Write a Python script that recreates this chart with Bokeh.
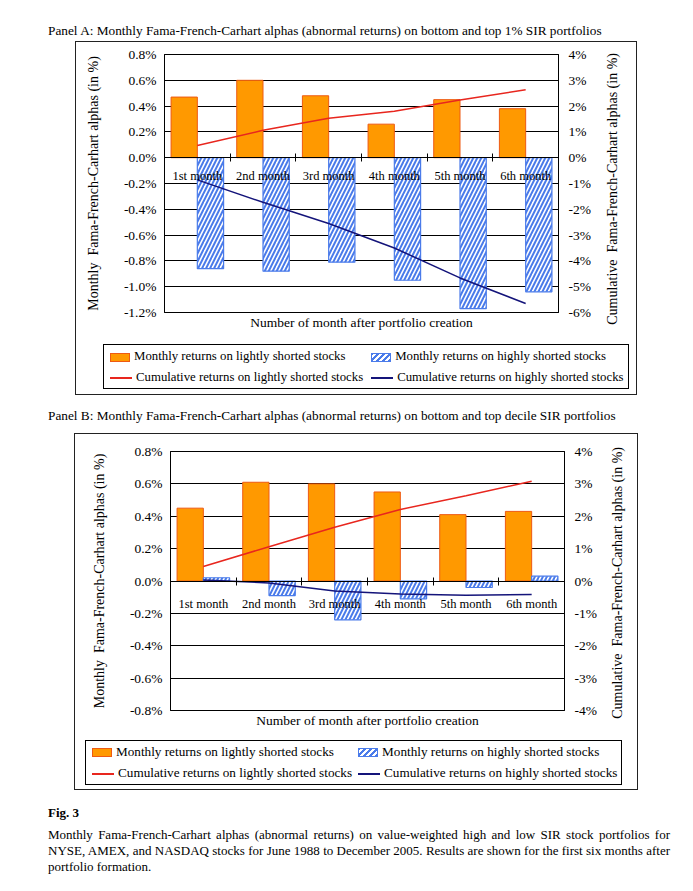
from bokeh.plotting import figure
from bokeh.models import (Range1d, LinearAxis, FixedTicker, PrintfTickFormatter,
                          Title, Div, ColumnDataSource)
from bokeh.layouts import column, row
from bokeh.core.properties import value
from bokeh.embed import file_html
from bokeh.resources import INLINE

months = ["1st month", "2nd month", "3rd month", "4th month", "5th month", "6th month"]

# Panel A (bottom and top 1% SIR)
a_light = [0.47, 0.60, 0.48, 0.26, 0.45, 0.38]
a_heavy = [-0.86, -0.88, -0.81, -0.95, -1.17, -1.04]
a_cum_light = [0.47, 1.06, 1.53, 1.80, 2.24, 2.63]
a_cum_heavy = [-0.86, -1.73, -2.55, -3.50, -4.66, -5.65]
a_left_ticks = [-1.2, -1.0, -0.8, -0.6, -0.4, -0.2, 0.0, 0.2, 0.4, 0.6, 0.8]
a_right_ticks = [-6, -5, -4, -3, -2, -1, 0, 1, 2, 3, 4]

# Panel B (bottom and top decile SIR)
b_light = [0.45, 0.61, 0.60, 0.55, 0.41, 0.43]
b_heavy = [0.02, -0.09, -0.24, -0.11, -0.04, 0.03]
b_cum_light = [0.45, 1.06, 1.66, 2.21, 2.63, 3.08]
b_cum_heavy = [0.03, -0.06, -0.31, -0.40, -0.44, -0.42]
b_left_ticks = [-0.8, -0.6, -0.4, -0.2, 0.0, 0.2, 0.4, 0.6, 0.8]
b_right_ticks = [-4, -3, -2, -1, 0, 1, 2, 3, 4]

legend_labels = ["Monthly returns on lightly shorted stocks",
                 "Monthly returns on highly shorted stocks",
                 "Cumulative returns on lightly shorted stocks",
                 "Cumulative returns on highly shorted stocks"]
left_label = "Monthly\u00a0\u00a0Fama-French-Carhart alphas (in %)"
right_label = "Cumulative\u00a0\u00a0Fama-French-Carhart alphas (in %)"
x_label = "Number of month after portfolio creation"

FONT = "Liberation Serif"
ORANGE = "#FF9900"
ORANGE_EDGE = "#EE5A12"
BLUE = "#4A7BEA"
RED = "#E8261E"
NAVY = "#14147A"
BORDER = "1.5px solid #222"


def chart(light, heavy, cum_light, cum_heavy, left_ticks, right_ticks,
          width, height, mb, label_offset):
    idx = list(range(len(months)))
    src = ColumnDataSource(dict(
        xl=[i + 0.3 for i in idx], xh=[i + 0.7 for i in idx], xc=[i + 0.5 for i in idx],
        light=light, heavy=heavy, cl=cum_light, ch=cum_heavy, zero=[0.0] * len(idx),
        lab=months))
    p = figure(width=width, height=height, output_backend="svg", toolbar_location=None,
               x_range=Range1d(0, 6), y_range=Range1d(left_ticks[0], left_ticks[-1]),
               min_border_left=mb[0], min_border_right=mb[1], min_border_top=mb[2],
               min_border_bottom=mb[3], outline_line_color="black", outline_line_width=1,
               background_fill_color="white", border_fill_color="white",
               styles={"border-top": BORDER, "border-left": BORDER, "box-sizing": "border-box"})
    p.margin = (0, 0, 0, 0)
    p.extra_y_ranges = {"cum": Range1d(right_ticks[0], right_ticks[-1])}
    p.xgrid.visible = False
    p.ygrid.grid_line_color = "black"
    p.ygrid.grid_line_width = 1
    p.ygrid.ticker = FixedTicker(ticks=left_ticks)

    # x axis at zero with ticks between categories
    xa = p.xaxis[0]
    xa.fixed_location = 0
    xa.ticker = FixedTicker(ticks=[1, 2, 3, 4, 5])
    xa.major_label_overrides = {1: "", 2: "", 3: "", 4: "", 5: ""}
    xa.major_label_standoff = 0
    xa.major_tick_in = 4
    xa.major_tick_out = 4
    xa.minor_tick_line_color = None
    xa.axis_line_color = "black"

    ya = p.yaxis[0]
    ya.ticker = FixedTicker(ticks=left_ticks)
    ya.formatter = PrintfTickFormatter(format="%.1f%%")
    ya.axis_label = left_label
    ra = LinearAxis(y_range_name="cum", ticker=FixedTicker(ticks=right_ticks),
                    formatter=PrintfTickFormatter(format="%d%%"))
    p.add_layout(ra, "right")
    for ax in (ya, ra):
        ax.major_label_text_font = FONT
        ax.major_label_text_font_size = "13.5px"
        ax.major_label_text_color = "black"
        ax.axis_label_text_font = FONT
        ax.axis_label_text_font_size = "14px"
        ax.axis_label_text_font_style = "normal"
        ax.axis_label_text_color = "black"
        ax.minor_tick_line_color = None
        ax.major_tick_in = 4
        ax.major_tick_out = 0
        ax.axis_line_color = "black"
    ya.major_label_standoff = 8
    ya.axis_label_standoff = 20
    ra.major_label_standoff = 10

    p.vbar(x="xl", top="light", bottom=0, width=0.4, source=src,
           fill_color=ORANGE, line_color=ORANGE_EDGE, line_width=1)
    p.vbar(x="xh", top="heavy", bottom=0, width=0.4, source=src,
           fill_color="white", line_color=BLUE, line_width=1.2,
           hatch_pattern="/", hatch_color=BLUE, hatch_scale=8, hatch_weight=2)
    p.line(x="xc", y="cl", source=src, y_range_name="cum", line_color=RED, line_width=1.5)
    p.line(x="xc", y="ch", source=src, y_range_name="cum", line_color=NAVY, line_width=1.5)
    p.text(x="xc", y="zero", text="lab", source=src, y_offset=label_offset,
           text_align="center", text_baseline="middle",
           text_font=value(FONT), text_font_size="12.5px", text_color="black")

    t = Title(text=x_label, align="center",
              text_font=FONT, text_font_size="13.5px", text_font_style="normal",
              text_color="black", standoff=0)
    p.add_layout(t, "below")
    return p


def right_label_div(width, height, pad_left):
    html = (f"<div style='height:{height - 2}px;display:flex;align-items:center;justify-content:center;"
            f"padding-left:{pad_left}px'>"
            f"<div style='writing-mode:vertical-rl;transform:rotate(180deg);white-space:nowrap;"
            f"font-family:\"{FONT}\";font-size:14px;color:#000'>{right_label}</div></div>")
    return Div(text=html, width=width, height=height, margin=(0, 0, 0, 0),
               styles={"border-top": BORDER, "border-right": BORDER,
                       "box-sizing": "border-box", "background": "#fff"})


def legend_div(width, height, left, top, font_px, pad_left, col_gap):
    patch = "display:inline-block;width:20px;height:9px;vertical-align:middle;margin-right:4px;"
    line = "display:inline-block;width:22px;height:0;vertical-align:middle;margin-right:4px;"
    glyphs = [
        f"<span style='{patch}background:{ORANGE};border:1px solid {ORANGE_EDGE}'></span>",
        f"<span style='{patch}border:1px solid {BLUE};background:repeating-linear-gradient(-45deg,{BLUE} 0 1.6px,#fff 1.6px 4.2px)'></span>",
        f"<span style='{line}border-top:2px solid {RED}'></span>",
        f"<span style='{line}border-top:2px solid {NAVY}'></span>",
    ]
    cells = "".join(f"<div style='white-space:nowrap;height:18px;line-height:18px'>{g}{t}</div>"
                    for g, t in zip(glyphs, legend_labels))
    html = (f"<div style='display:inline-grid;grid-template-columns:auto auto;column-gap:{col_gap}px;"
            f"row-gap:3px;margin-left:{left}px;margin-top:{top}px;border:1px solid #000;"
            f"padding:2px 4px 2px {pad_left}px;font-family:\"{FONT}\";font-size:{font_px}px;"
            f"color:#000;background:#fff'>{cells}</div>")
    return Div(text=html, width=width, height=height,
               styles={"border-left": BORDER, "border-right": BORDER, "border-bottom": BORDER,
                       "box-sizing": "border-box", "background": "#fff"})


div_style = {"font-family": FONT, "color": "black"}

title_a = Div(text="Panel A: Monthly Fama-French-Carhart alphas (abnormal returns) on bottom and top 1% SIR portfolios",
              width=640, height=41, margin=(0, 0, 0, 48),
              styles={**div_style, "font-size": "13.3px", "padding-top": "22px"})
pa = chart(a_light, a_heavy, a_cum_light, a_cum_heavy, a_left_ticks, a_right_ticks,
           522, 296, (88, 40, 12, 26), 18)
ra_div = right_label_div(40, 296, 6)
top_a = row(pa, ra_div, spacing=0, margin=(0, 0, 0, 75))
la = legend_div(562, 58, 27, 7, 12.8, 6, 8)
la.margin = (0, 0, 0, 75)

title_b = Div(text="Panel B: Monthly Fama-French-Carhart alphas (abnormal returns) on bottom and top decile SIR portfolios",
              width=640, height=38, margin=(0, 0, 0, 48),
              styles={**div_style, "font-size": "13.3px", "padding-top": "12px"})
pb = chart(b_light, b_heavy, b_cum_light, b_cum_heavy, b_left_ticks, b_right_ticks,
           524, 300, (95, 35, 17, 24), 23)
rb_div = right_label_div(40, 300, 10)
top_b = row(pb, rb_div, spacing=0, margin=(0, 0, 0, 74))
lb = legend_div(564, 57, 10, 7, 13.2, 6, 6)
lb.margin = (0, 0, 0, 74)

caption = Div(text="<div style='font-weight:bold;font-size:13px;margin-top:14px'>Fig. 3</div>"
                   "<div style='font-size:13px;margin-top:4px;text-align:justify;line-height:16.4px;width:622px'>"
                   "Monthly Fama-French-Carhart alphas (abnormal returns) on value-weighted high and low SIR stock "
                   "portfolios for NYSE, AMEX, and NASDAQ stocks for June 1988 to December 2005. Results are shown "
                   "for the first six months after portfolio formation.</div>",
              width=660, height=95, margin=(0, 0, 0, 48), styles=div_style)

layout = column(title_a, top_a, la, title_b, top_b, lb, caption, spacing=0)
open("out.html", "w").write(file_html(layout, INLINE))
